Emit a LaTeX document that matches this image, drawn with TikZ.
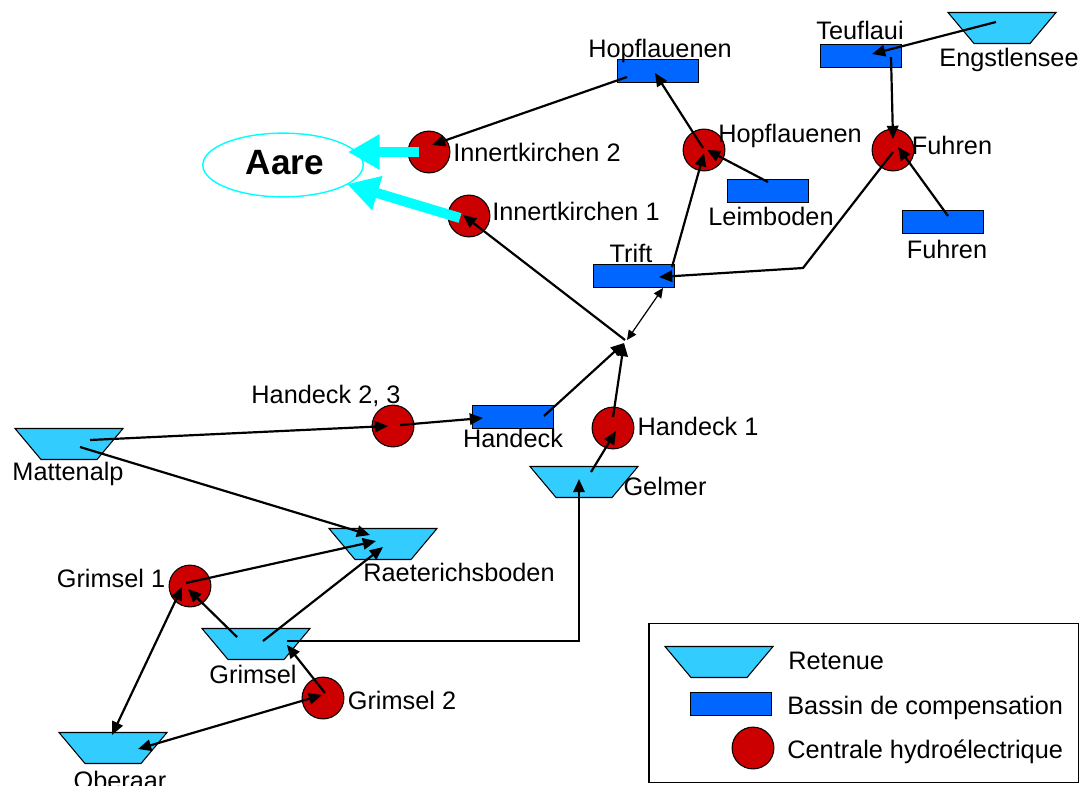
\documentclass[tikz,border=0pt]{standalone}
\usepackage{fontspec}
\setmainfont{Liberation Sans}
\usetikzlibrary{arrows.meta,calc,shapes.geometric}
\definecolor{retc}{RGB}{51,204,255}
\definecolor{basc}{RGB}{0,102,255}
\definecolor{cenc}{RGB}{204,0,0}
\definecolor{aarc}{RGB}{0,255,255}
\newcommand\retenue[3]{%
  \node[retbox] (#1) at (#2,#3) {};
  \filldraw[retc, draw=black, line width=0.6pt] ({#2-54},{#3-15.5}) -- ({#2+54},{#3-15.5}) -- ({#2+28},{#3+15.5}) -- ({#2-28},{#3+15.5}) -- cycle;}
\begin{document}
\begin{tikzpicture}[x=0.02cm,y=-0.02cm,
  lbl/.style={font=\fontsize{14.4}{16}\selectfont, inner sep=0, anchor=base},
  lleg/.style={font=\fontsize{14.4}{16}\selectfont, inner sep=0, anchor=base west},
  bassin/.style={draw=black, fill=basc, line width=0.6pt, minimum width=46.5pt, minimum height=13pt, inner sep=0},
  centrale/.style={circle, draw=black, fill=cenc, line width=0.6pt, minimum size=23.8pt, inner sep=0},
  retbox/.style={inner sep=0, minimum width=61.2pt, minimum height=17.6pt},
  flow/.style={line width=1.25pt, -{Triangle[length=7.5pt,width=6.5pt]}},
  flowtwo/.style={line width=1.25pt, {Triangle[length=7.5pt,width=6.5pt]}-{Triangle[length=7.5pt,width=6.5pt]}},
  thinflow/.style={line width=0.7pt, {Triangle[length=5.5pt,width=5pt]}-{Triangle[length=5.5pt,width=5pt]}},
  aareflow/.style={aarc, line width=5.7pt, -{Triangle[length=18pt,width=19pt]}},
]
\useasboundingbox (0,0) rectangle (1084,785);

% Retenues
\retenue{matt}{69}{444}
\retenue{raet}{383}{544}
\retenue{grim}{256}{644}
\retenue{ober}{113}{748}
\retenue{gelm}{584}{482}
\retenue{engs}{1002}{28}
\retenue{legret}{719}{662}

% Bassins
\node[bassin] (hopb) at (658,71) {};
\node[bassin] (teuf) at (861,56) {};
\node[bassin] (leim) at (768,191) {};
\node[bassin] (fuhb) at (943,222) {};
\node[bassin] (trift) at (634,276) {};
\node[bassin] (hanb) at (513,417) {};
\node[bassin] (legbas) at (731,704) {};

% Centrales
\node[centrale] (ik2) at (429,152) {};
\node[centrale] (ik1) at (469,216) {};
\node[centrale] (hopc) at (704,150) {};
\node[centrale] (fuhc) at (893,150) {};
\node[centrale] (h23) at (393,426) {};
\node[centrale] (h1) at (613,428) {};
\node[centrale] (g1) at (190,586) {};
\node[centrale] (g2) at (323,698) {};
\node[centrale] (legcen) at (753,748) {};

% Aare
\node[ellipse, draw=aarc, line width=0.8pt, minimum width=91.3pt, minimum height=36.3pt, inner sep=0] (aare) at (283,165) {};
\node[font=\fontsize{20}{24}\selectfont\bfseries, inner sep=0, anchor=base] (aaretxt) at (285,174) {Aare};

% junction / bend
\coordinate (junc) at (624,343);
\coordinate (bend) at (803,268);

% Legend
\node[draw=black, line width=0.8pt, minimum width=244.4pt, minimum height=90.7pt, inner sep=0] (legend) at (863.5,703) {};
\node[lleg] (lr) at (788,669) {Retenue};
\node[lleg] (lb) at (787,714) {Bassin de compensation};
\node[lleg] (lc) at (787,758) {Centrale hydroélectrique};

% Labels
\node[lbl] (t1) at (660,57) {Hopflauenen};
\node[lbl] (t2) at (860,39) {Teuflaui};
\node[lbl] (t3) at (1009,66) {Engstlensee};
\node[lbl] (t4) at (790,142) {Hopflauenen};
\node[lbl] (t5) at (952,154) {Fuhren};
\node[lbl] (t6) at (771,225) {Leimboden};
\node[lbl] (t7) at (947,258) {Fuhren};
\node[lbl] (t8) at (631,262) {Trift};
\node[lbl] (t9) at (537,161) {Innertkirchen 2};
\node[lbl] (t10) at (576,220) {Innertkirchen 1};
\node[lbl] (t11) at (326,403) {Handeck 2, 3};
\node[lbl] (t12) at (513,447) {Handeck};
\node[lbl] (t13) at (698,435) {Handeck 1};
\node[lbl] (t14) at (665,495) {Gelmer};
\node[lbl] (t15) at (68,480) {Mattenalp};
\node[lbl] (t16) at (459,581) {Raeterichsboden};
\node[lbl] (t17) at (111,587) {Grimsel 1};
\node[lbl] (t18) at (253,683) {Grimsel};
\node[lbl] (t19) at (402,709) {Grimsel 2};
\node[lbl] (t20) at (120,789) {Oberaar};

% Connectors
\draw[flow] ($(matt)+(21,-4)$) -- ($(h23)+(-5,0)$);
\draw[flow] ($(h23)+(7,-1)$) -- ($(hanb)+(-30,1)$);
\draw[flow] ($(matt)+(11,3)$) -- ($(raet)+(-13,-9)$);
\draw[flow] ($(hanb)+(31,-1)$) -- (junc);
\draw[flow] ($(h1)+(0,-11)$) -- (junc);
\draw[flow] ($(gelm)+(7,-10)$) -- ($(h1)+(3,3)$);
\draw[flow] ($(grim)+(31,-3)$) -| ($(gelm)+(-5,-3)$);
\draw[flow] ($(g2)+(2,-5)$) -- ($(grim)+(31,1)$);
\draw[flowtwo] ($(ober)+(25,1)$) -- ($(g2)+(-1,-3)$);
\draw[flowtwo] ($(g1)+(-8,1)$) -- ($(ober)+(-1,-13)$);
\draw[flow] ($(grim)+(-19,-7)$) -- ($(g1)+(-2,3)$);
\draw[flow] ($(g1)+(-4,-3)$) -- ($(raet)+(-7,-3)$);
\draw[flow] ($(grim)+(7,-3)$) -- ($(raet)+(0,3)$);
\draw[flow] ($(junc)+(1,-3)$) -- ($(ik1)+(-6,-1)$);
\draw[thinflow] ($(trift)+(29,12)$) -- ($(junc)+(3,-3)$);
\draw[flow] ($(trift)+(38,-9)$) -- ($(hopc)+(0,3)$);
\draw[flow] ($(leim)+(0,-9)$) -- ($(hopc)+(3,0)$);
\draw[flow] ($(hopc)+(-1,-2)$) -- ($(hopb)+(-3,2)$);
\draw[flow] ($(hopb)+(-31,6)$) -- ($(ik2)+(3,-7)$);
\draw[flow] ($(fuhc)+(0,2)$) -- (bend) -- ($(trift)+(25,1)$);
\draw[flow] ($(fuhb)+(5,-6)$) -- ($(fuhc)+(5,-3)$);
\draw[flow] ($(teuf)+(30,1)$) -- ($(fuhc)+(0,-11)$);
\draw[flow] ($(engs)+(-6,-6)$) -- ($(teuf)+(11,-2)$);
\draw[aareflow] ($(ik2)+(-10,0)$) -- ($(aare)+(65,-13)$);
\draw[aareflow] ($(ik1)+(-9,2)$) -- ($(aare)+(64,19)$);
\end{tikzpicture}
\end{document}
